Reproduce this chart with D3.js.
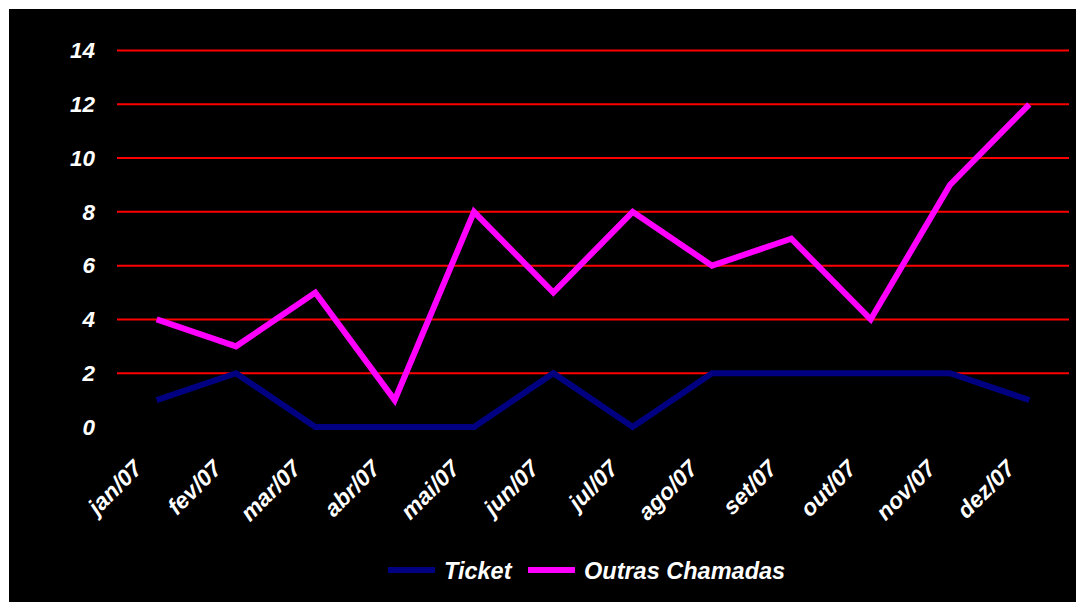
<!DOCTYPE html>
<html><head><meta charset="utf-8">
<script src="https://cdn.jsdelivr.net/npm/d3@7"></script>
<style>html,body{margin:0;padding:0;background:#fff;}svg{display:block;}</style>
</head><body>
<svg id="c" width="1076" height="602"></svg>
<script>
const categories = ["jan/07","fev/07","mar/07","abr/07","mai/07","jun/07","jul/07","ago/07","set/07","out/07","nov/07","dez/07"];
const ticket = [1,2,0,0,0,2,0,2,2,2,2,1];
const outras = [4,3,5,1,8,5,8,6,7,4,9,12];
const yTicks = [0,2,4,6,8,10,12,14];
const seriesNames = ["Ticket","Outras Chamadas"];
const seriesColors = ["#000080","#FF00FF"];

(function(){
const svg = d3.select("#c");
svg.append("rect").attr("x",9).attr("y",9).attr("width",1067).attr("height",593).attr("fill","#000");

const pLeft = 117, pRight = 1069, pTop = 50.5, pBottom = 427;
const x = d3.scaleBand().domain(categories).range([pLeft,pRight]);
const y = d3.scaleLinear().domain([0,14]).range([pBottom,pTop]);
const font = "Arial, 'Liberation Sans', sans-serif";

// grid lines
svg.append("g").selectAll("line").data(yTicks.filter(d=>d>0)).join("line")
  .attr("x1",pLeft).attr("x2",pRight)
  .attr("y1",d=>y(d)).attr("y2",d=>y(d))
  .attr("stroke","#FF0000").attr("stroke-width",2);

// y axis labels
const yAxis = svg.append("g").attr("transform",`translate(${pLeft},0)`)
  .call(d3.axisLeft(y).tickValues(yTicks).tickSize(0).tickPadding(22));
yAxis.select(".domain").remove();
yAxis.selectAll("text").attr("fill","#fff").attr("font-family",font)
  .attr("font-size",22.5).attr("font-weight","bold").attr("font-style","italic");

// x axis labels
const xAxis = svg.append("g").attr("transform",`translate(0,${pBottom})`)
  .call(d3.axisBottom(x).tickSize(0).tickPadding(0));
xAxis.select(".domain").remove();
xAxis.selectAll("text").attr("fill","#fff").attr("font-family",font)
  .attr("font-size",23).attr("font-weight","bold").attr("font-style","italic")
  .attr("text-anchor","end").attr("dy",null).attr("y",0)
  .attr("transform","translate(-13,43) rotate(-45)");

const line = d3.line().x((d,i)=>x(categories[i])+x.bandwidth()/2).y(d=>y(d));
[ticket, outras].forEach((s,k)=>{
  svg.append("path").attr("d",line(s)).attr("fill","none")
    .attr("stroke",seriesColors[k]).attr("stroke-width",6).attr("stroke-linejoin","miter");
});

// legend
const legend = [{x:388, tx:444},{x:528, tx:584}];
legend.forEach((l,k)=>{
  svg.append("line").attr("x1",l.x).attr("x2",l.x+47).attr("y1",570).attr("y2",570)
    .attr("stroke",seriesColors[k]).attr("stroke-width",6);
  svg.append("text").attr("x",l.tx).attr("y",579).text(seriesNames[k])
    .attr("fill","#fff").attr("font-family",font).attr("font-size",23.5)
    .attr("font-weight","bold").attr("font-style","italic");
});
})();
</script>
</body></html>
